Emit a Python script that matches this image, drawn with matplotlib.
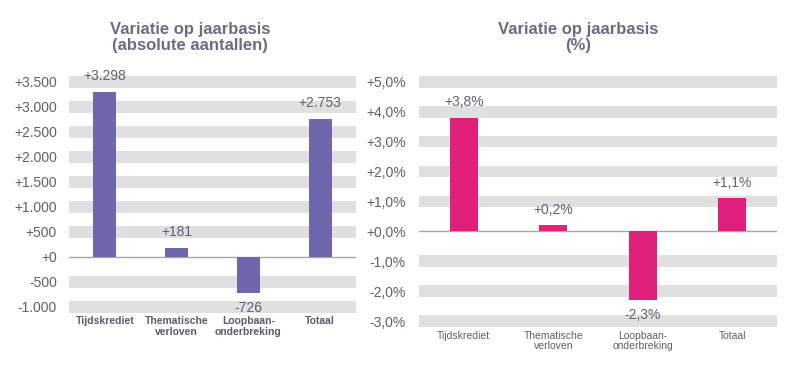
import matplotlib
matplotlib.use("Agg")
import matplotlib.pyplot as plt

plt.rcParams['font.family'] = ['Liberation Sans', 'DejaVu Sans']

categories = ["Tijdskrediet", "Thematische\nverloven", "Loopbaan-\nonderbreking", "Totaal"]
abs_values = [3298, 181, -726, 2753]
abs_labels = ["+3.298", "+181", "-726", "+2.753"]
pct_values = [3.8, 0.2, -2.3, 1.1]
pct_labels = ["+3,8%", "+0,2%", "-2,3%", "+1,1%"]
abs_ticks = [-1000, -500, 0, 500, 1000, 1500, 2000, 2500, 3000, 3500]
abs_ticklabels = ["-1.000", "-500", "+0", "+500", "+1.000", "+1.500", "+2.000", "+2.500", "+3.000", "+3.500"]
pct_ticks = [-3, -2, -1, 0, 1, 2, 3, 4, 5]
pct_ticklabels = ["-3,0%", "-2,0%", "-1,0%", "+0,0%", "+1,0%", "+2,0%", "+3,0%", "+4,0%", "+5,0%"]
titles = ["Variatie op jaarbasis\n(absolute aantallen)", "Variatie op jaarbasis\n(%)"]

W, H = 805, 383
fig = plt.figure(figsize=(W / 100, H / 100), dpi=100)
fig.patch.set_facecolor("white")

PURPLE = "#6E67AE"
PINK = "#E0207A"
BAND = "#E0E0E0"
TEXT = "#5f5f70"
TITLE = "#6B6B85"

def px_axes(x0, x1, y0, y1):
    return fig.add_axes([x0 / W, 1 - y1 / H, (x1 - x0) / W, (y1 - y0) / H])

ax1 = px_axes(69, 356, 74.2, 314.2)
ax2 = px_axes(419, 777, 74.3, 328.5)

def setup(ax, values, labels, ticks, ticklabels, color, ylim, half, bw, catfont, catweight, catcolor, pad):
    x = list(range(len(values)))
    ax.set_xlim(-0.5, len(values) - 0.5)
    ax.set_ylim(*ylim)
    for t in ticks:
        if t != 0:
            ax.axhspan(t - half, t + half, color=BAND, lw=0, zorder=0)
    ax.axhline(0, color="#A6A6A6", lw=1.0, zorder=1)
    ax.bar(x, values, width=bw, color=color, zorder=2)
    for xi, v, lab in zip(x, values, labels):
        off = 11.2 if v >= 0 else -11.0
        ax.annotate(lab, (xi, v), xytext=(0, off), textcoords="offset points",
                    ha="center", va="center", fontsize=10, color=TEXT)
    ax.set_yticks(ticks)
    ax.set_yticklabels(ticklabels, fontsize=10, color=TEXT)
    ax.set_xticks(x)
    ax.set_xticklabels(categories, fontsize=catfont, fontweight=catweight, color=catcolor, linespacing=1.1)
    ax.tick_params(axis="y", length=0, pad=pad)
    ax.tick_params(axis="x", length=0, pad=1.5)
    for s in ax.spines.values():
        s.set_visible(False)
    ax.set_facecolor("white")

setup(ax1, abs_values, abs_labels, abs_ticks, abs_ticklabels, PURPLE, (-1150, 3650), 120, 0.32,
      7.5, "bold", "#5a5a6a", 8.6)
setup(ax2, pct_values, pct_labels, pct_ticks, pct_ticklabels, PINK, (-3.25, 5.25), 0.195, 0.31,
      7.5, "normal", TEXT, 9.5)

fig.text(190 / W, 1 - 37.5 / H, titles[0], ha="center", va="center", fontsize=12,
         fontweight="bold", color=TITLE, linespacing=1.1)
fig.text(578 / W, 1 - 37.5 / H, titles[1], ha="center", va="center", fontsize=12,
         fontweight="bold", color=TITLE, linespacing=1.1)

fig.savefig("out.png", dpi=100, facecolor="white")
